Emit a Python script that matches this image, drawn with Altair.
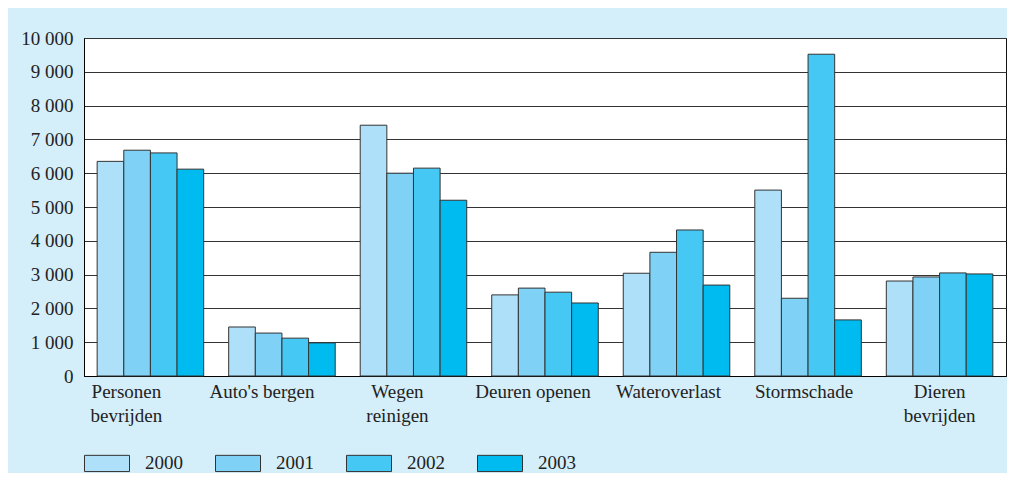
import altair as alt
import pandas as pd

categories = ["Personen bevrijden", "Auto's bergen", "Wegen reinigen", "Deuren openen",
              "Wateroverlast", "Stormschade", "Dieren bevrijden"]
years = ["2000", "2001", "2002", "2003"]
v2000 = [6350, 1450, 7420, 2400, 3040, 5500, 2810]
v2001 = [6680, 1270, 6000, 2600, 3660, 2300, 2930]
v2002 = [6600, 1120, 6150, 2480, 4320, 9520, 3050]
v2003 = [6120, 980, 5200, 2160, 2690, 1660, 3020]
colors = ["#aee1f9", "#7fd1f6", "#45c8f4", "#00bbef"]
y_ticks = list(range(0, 10001, 1000))

rows = []
for yr, vals in zip(years, [v2000, v2001, v2002, v2003]):
    for c, v in zip(categories, vals):
        rows.append({"cat": c, "year": yr, "value": v})
df = pd.DataFrame(rows)

FONT = "Liberation Serif"
multiline = ["Personen bevrijden", "Wegen reinigen", "Dieren bevrijden"]
label_expr = ("indexof(" + str(multiline).replace('"', "'") +
              ", datum.label) >= 0 ? split(datum.label, ' ') : datum.label")

offset_cond = [
    {"test": 'datum.value == "' + c + '"', "value": (i - 6) * 4}
    for i, c in enumerate(categories[:-1])
]

chart = alt.Chart(df).mark_bar(stroke="#333333", strokeWidth=1).encode(
    x=alt.X("cat:N", sort=categories,
            scale=alt.Scale(paddingInner=0.19, paddingOuter=0.1),
            axis=alt.Axis(title=None, labelAngle=0, ticks=False, domainColor="#000000",
                          labelExpr=label_expr, labelLineHeight=24, labelPadding=6,
                          labelFont=FONT, labelFontSize=19, labelColor="#222222",
                          labelOffset={"condition": offset_cond, "value": 0})),
    xOffset=alt.XOffset("year:N", sort=years, scale=alt.Scale(paddingInner=0, paddingOuter=0)),
    y=alt.Y("value:Q", scale=alt.Scale(domain=[0, 10000], nice=False),
            axis=alt.Axis(title=None, values=y_ticks, ticks=False, labelPadding=11,
                          labelExpr="replace(format(datum.value, ','), ',', ' ')",
                          labelFont=FONT, labelFontSize=19, labelColor="#222222",
                          gridColor="#333333", gridOpacity=1, domainColor="#000000")),
    color=alt.Color("year:N", scale=alt.Scale(domain=years, range=colors),
                    legend=alt.Legend(title=None, orient="none", legendX=0, legendY=402,
                                      direction="horizontal",
                                      symbolType="M-1,-0.36H1V0.36H-1Z", symbolSize=2025,
                                      symbolStrokeColor="#333333", symbolStrokeWidth=1,
                                      symbolOpacity=1, labelFont=FONT, labelFontSize=19,
                                      labelColor="#222222", labelOffset=15,
                                      columnPadding=30, padding=0)),
).properties(
    width=922, height=338,
    autosize=alt.AutoSizeParams(type="none"),
    padding={"left": 76, "top": 30, "right": 1, "bottom": 97},
).configure(
    background="#d4eefa",
).configure_view(
    fill="#ffffff", stroke="#111111", strokeWidth=1,
)

chart.save("out.html", embed_options={"renderer": "svg", "actions": False})
